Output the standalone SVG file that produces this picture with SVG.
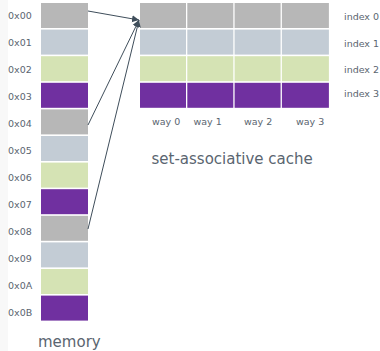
<svg xmlns="http://www.w3.org/2000/svg" width="380" height="351" viewBox="0 0 380 351">
<style>
.t{font-family:"DejaVu Sans",sans-serif;font-size:9.5px;fill:#5a6570}
.big{font-family:"DejaVu Sans",sans-serif;font-size:15px;fill:#5a6570}
.g{fill:#b7b7b7}.b{fill:#c3ccd5}.l{fill:#d5e3b4}.p{fill:#7030a0}
.c{stroke:#3f4e5b;stroke-width:1;fill:none;marker-end:url(#ah)}
</style>
<defs>
<marker id="ah" markerWidth="8" markerHeight="8" refX="7" refY="4" orient="auto" markerUnits="userSpaceOnUse">
<path d="M0,0.5 L7,4 L0,7.5 Z" fill="#3f4e5b"/>
</marker>
</defs>
<rect width="380" height="351" fill="#ffffff"/>
<rect x="0" y="0" width="8" height="351" fill="#f8f8f8"/>
<g id="memory">
<g id="m00"><rect class="g" x="41" y="3" width="47" height="25"/><text class="t" x="8" y="19.3">0x00</text></g>
<g id="m01"><rect class="b" x="41" y="29.6" width="47" height="25"/><text class="t" x="8" y="46.2">0x01</text></g>
<g id="m02"><rect class="l" x="41" y="56.2" width="47" height="25"/><text class="t" x="8" y="73.2">0x02</text></g>
<g id="m03"><rect class="p" x="41" y="82.8" width="47" height="25"/><text class="t" x="8" y="100.1">0x03</text></g>
<g id="m04"><rect class="g" x="41" y="109.4" width="47" height="25"/><text class="t" x="8" y="127.1">0x04</text></g>
<g id="m05"><rect class="b" x="41" y="136" width="47" height="25"/><text class="t" x="8" y="154">0x05</text></g>
<g id="m06"><rect class="l" x="41" y="162.6" width="47" height="25"/><text class="t" x="8" y="181">0x06</text></g>
<g id="m07"><rect class="p" x="41" y="189.2" width="47" height="25"/><text class="t" x="8" y="207.9">0x07</text></g>
<g id="m08"><rect class="g" x="41" y="215.8" width="47" height="25"/><text class="t" x="8" y="234.9">0x08</text></g>
<g id="m09"><rect class="b" x="41" y="242.4" width="47" height="25"/><text class="t" x="8" y="261.8">0x09</text></g>
<g id="m0A"><rect class="l" x="41" y="269" width="47" height="25"/><text class="t" x="8" y="288.8">0x0A</text></g>
<g id="m0B"><rect class="p" x="41" y="295.6" width="47" height="25"/><text class="t" x="8" y="315.7">0x0B</text></g>
<text class="big" x="38" y="346.5">memory</text>
</g>
<g id="cache">
<g id="set0">
<rect class="g" x="140" y="3" width="46" height="25"/><rect class="g" x="187.3" y="3" width="46" height="25"/><rect class="g" x="234.6" y="3" width="46" height="25"/><rect class="g" x="281.9" y="3" width="47" height="25"/>
<text class="t" x="344" y="20">index 0</text>
</g>
<g id="set1">
<rect class="b" x="140" y="29.6" width="46" height="25"/><rect class="b" x="187.3" y="29.6" width="46" height="25"/><rect class="b" x="234.6" y="29.6" width="46" height="25"/><rect class="b" x="281.9" y="29.6" width="47" height="25"/>
<text class="t" x="344" y="46.5">index 1</text>
</g>
<g id="set2">
<rect class="l" x="140" y="56.2" width="46" height="25"/><rect class="l" x="187.3" y="56.2" width="46" height="25"/><rect class="l" x="234.6" y="56.2" width="46" height="25"/><rect class="l" x="281.9" y="56.2" width="47" height="25"/>
<text class="t" x="344" y="72.5">index 2</text>
</g>
<g id="set3">
<rect class="p" x="140" y="82.8" width="46" height="25"/><rect class="p" x="187.3" y="82.8" width="46" height="25"/><rect class="p" x="234.6" y="82.8" width="46" height="25"/><rect class="p" x="281.9" y="82.8" width="47" height="25"/>
<text class="t" x="344" y="97">index 3</text>
</g>
<text class="t" x="152" y="125">way 0</text>
<text class="t" x="193.5" y="125">way 1</text>
<text class="t" x="244" y="125">way 2</text>
<text class="t" x="296" y="125">way 3</text>
<text class="big" x="151.5" y="164">set-associative cache</text>
</g>
<g id="connectors">
<path class="c" d="M88,11 L139,20"/>
<path class="c" d="M88,125 L139,20"/>
<path class="c" d="M88,229 L139,20"/>
</g>
</svg>
